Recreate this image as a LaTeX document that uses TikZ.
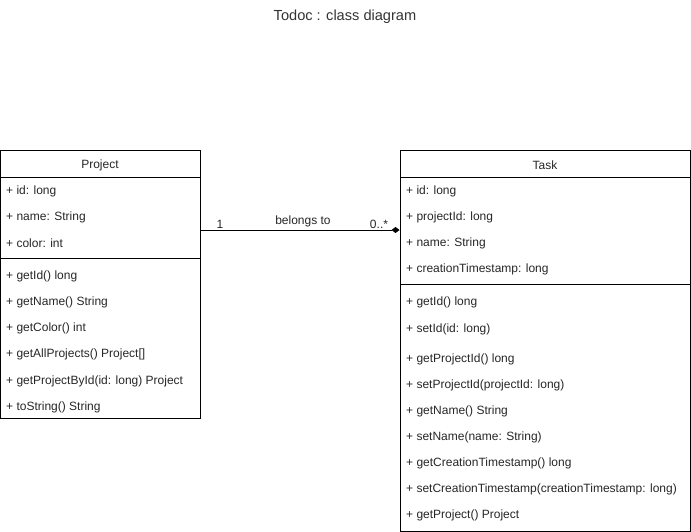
\documentclass[tikz,border=0pt]{standalone}
\usepackage{fontspec}
\setmainfont{Liberation Sans}
\usetikzlibrary{arrows.meta}
\begin{document}
\begin{tikzpicture}[x=1pt,y=-1pt,
  classbox/.style={draw, line width=0.9pt, inner sep=0pt},
  member/.style={anchor=west, inner sep=0pt, yshift=-2pt, font=\fontsize{12}{13}\selectfont, text=black!85},
  ctitle/.style={inner sep=0pt, yshift=-2pt, font=\fontsize{12}{13}\selectfont, text=black!85},
  sep/.style={line width=0.9pt},
  assoc/.style={line width=0.9pt, -{Diamond[length=8pt,width=6pt,fill=black]}},
  lbl/.style={inner sep=0pt, yshift=-2pt, font=\fontsize{12}{13}\selectfont, text=black!85}]
\useasboundingbox (0,0) rectangle (691,532);
\node[inner sep=0pt, yshift=-1pt, font=\fontsize{14.6}{16}\selectfont, text=black!80] (title) at (345,16) {Todoc : class diagram};
% Project
\node[classbox, minimum width=199.5pt, minimum height=268pt] (project) at (100.5,284) {};
\draw[sep] (0.75,177) -- (200,177);
\draw[sep] (0.75,258) -- (200,258);
\node[ctitle] (pt) at (100,163) {Project};
\node[member] (p1) at (6,189) {+ id: long};
\node[member] (p2) at (6,215) {+ name: String};
\node[member] (p3) at (6,241) {+ color: int};
\node[member] (p4) at (6,274) {+ getId() long};
\node[member] (p5) at (6,300) {+ getName() String};
\node[member] (p6) at (6,326) {+ getColor() int};
\node[member] (p7) at (6,352) {+ getAllProjects() Project[]};
\node[member] (p8) at (6,379) {+ getProjectById(id: long) Project};
\node[member] (p9) at (6,405) {+ toString() String};
% Task
\node[classbox, minimum width=290pt, minimum height=381pt] (task) at (545,340.5) {};
\draw[sep] (400,177) -- (690,177);
\draw[sep] (400,284) -- (690,284);
\node[ctitle] (tt) at (545,163) {Task};
\node[member] (t1) at (406,189) {+ id: long};
\node[member] (t2) at (406,215) {+ projectId: long};
\node[member] (t3) at (406,241) {+ name: String};
\node[member] (t4) at (406,267) {+ creationTimestamp: long};
\node[member] (t5) at (406,300) {+ getId() long};
\node[member] (t6) at (406,327) {+ setId(id: long)};
\node[member] (t7) at (406,357) {+ getProjectId() long};
\node[member] (t8) at (406,383) {+ setProjectId(projectId: long)};
\node[member] (t9) at (406,409) {+ getName() String};
\node[member] (t10) at (406,435) {+ setName(name: String)};
\node[member] (t11) at (406,461) {+ getCreationTimestamp() long};
\node[member] (t12) at (406,487) {+ setCreationTimestamp(creationTimestamp: long)};
\node[member] (t13) at (406,513) {+ getProject() Project};
% association
\coordinate (a0) at (project.east |- 0,230);
\coordinate (a1) at (task.west |- 0,230);
\draw[assoc] (a0) -- (a1);
\node[lbl] (m1) at (220,222) {1};
\node[lbl] (ml) at (303,219) {belongs to};
\node[lbl] (m2) at (379,222) {0..*};
\end{tikzpicture}
\end{document}
